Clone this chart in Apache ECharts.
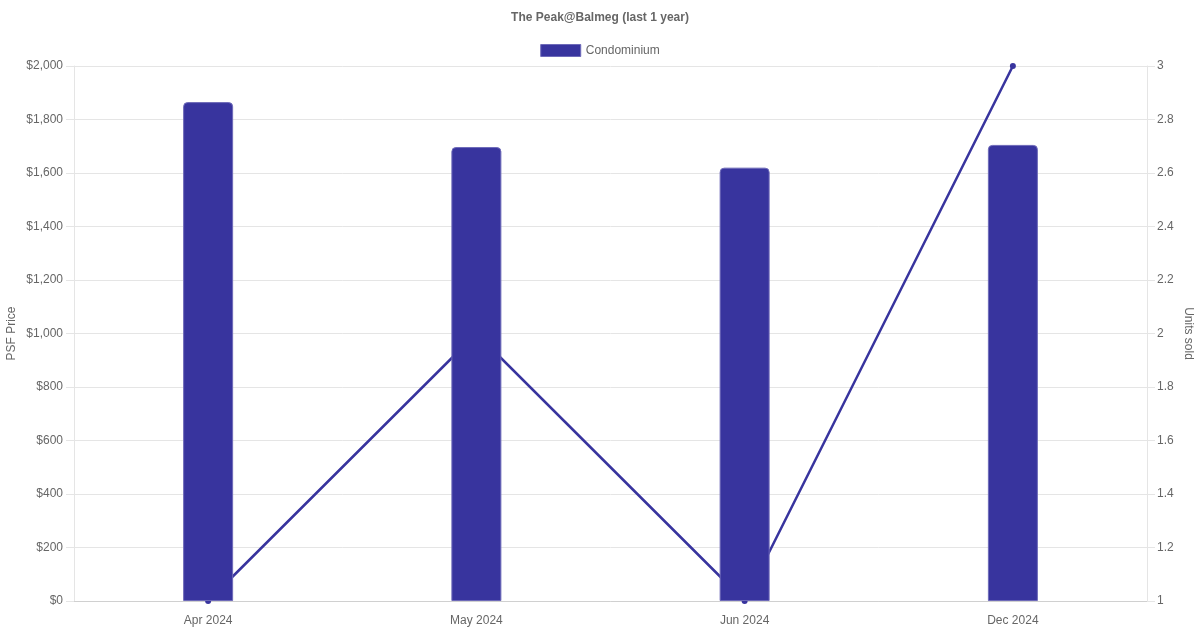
<!DOCTYPE html>
<html>
<head>
<meta charset="utf-8">
<script src="https://cdn.jsdelivr.net/npm/echarts@6/dist/echarts.min.js"></script>
<style>
  html, body { margin: 0; padding: 0; background: #fff; }
  #chart { width: 1200px; height: 630px; }
</style>
</head>
<body>
<div id="chart"></div>
<script>
// Values
const months = ["Apr 2024", "May 2024", "Jun 2024", "Dec 2024"];
const psfPrice = [1865, 1697, 1620, 1705];
const unitsSold = [1, 2, 1, 3];

const BLUE = "#38349e";
const EDGE = "#6e6ab9";
const TEXT = "#666";
const GRID = "#e5e5e5";
const FONT = "'Liberation Sans', Arial, Helvetica, sans-serif";

const chart = echarts.init(document.getElementById("chart"));

const option = {
  textStyle: { fontFamily: FONT },
  animation: false,
  title: {
    text: "The Peak@Balmeg (last 1 year)",
    left: "center",
    top: 7,
    textStyle: { fontSize: 12, fontWeight: "bold", color: TEXT, fontFamily: FONT },
  },
  legend: {
    data: ["Condominium"],
    top: 39,
    left: "center",
    itemWidth: 40,
    itemHeight: 12,
    itemGap: 10,
    icon: "rect",
    itemStyle: { color: BLUE, borderColor: EDGE, borderWidth: 1 },
    textStyle: { fontSize: 12, color: TEXT, fontFamily: FONT },
  },
  grid: { left: 74, right: 53, top: 66, bottom: 29, containLabel: false, outerBoundsMode: "none" },
  xAxis: {
    type: "category",
    data: months,
    axisLine: { show: true, lineStyle: { color: "#d0d0d0" } },
    axisTick: { show: false },
    splitLine: { show: false },
    axisLabel: { color: TEXT, fontSize: 12, margin: 14, fontFamily: FONT },
  },
  yAxis: [
    {
      type: "value",
      min: 0,
      max: 2000,
      interval: 200,
      name: "PSF Price",
      nameLocation: "middle",
      nameRotate: 90,
      nameGap: 56,
      nameMoveOverlap: false,
      nameTextStyle: { color: TEXT, fontSize: 12, fontFamily: FONT },
      axisLine: { show: true, lineStyle: { color: GRID } },
      axisTick: { show: true, length: 8, lineStyle: { color: GRID } },
      splitLine: { show: true, lineStyle: { color: GRID } },
      axisLabel: {
        color: TEXT,
        fontSize: 12,
        margin: 11,
        fontFamily: FONT,
        formatter: (v) => "$" + v.toLocaleString("en-US"),
      },
    },
    {
      type: "value",
      min: 1,
      max: 3,
      interval: 0.2,
      position: "right",
      name: "Units sold",
      nameLocation: "middle",
      nameRotate: -90,
      nameGap: 35,
      nameMoveOverlap: false,
      nameTextStyle: { color: TEXT, fontSize: 12, fontFamily: FONT },
      axisLine: { show: true, lineStyle: { color: GRID } },
      axisTick: { show: true, length: 8, lineStyle: { color: GRID } },
      splitLine: { show: false },
      axisLabel: {
        color: TEXT,
        fontSize: 12,
        margin: 10,
        fontFamily: FONT,
        formatter: (v) => String(Math.round(v * 10) / 10),
      },
    },
  ],
  series: [
    {
      name: "Units sold",
      type: "line",
      yAxisIndex: 1,
      data: unitsSold,
      z: 1,
      clip: false,
      symbol: "circle",
      symbolSize: 6,
      lineStyle: { color: BLUE, width: 2.5 },
      itemStyle: { color: BLUE },
    },
    {
      name: "Condominium",
      type: "bar",
      yAxisIndex: 0,
      data: psfPrice,
      z: 2,
      barWidth: 50,
      itemStyle: {
        color: BLUE,
        borderColor: EDGE,
        borderWidth: 1,
        borderRadius: [4, 4, 0, 0],
      },
    },
  ],
};

chart.setOption(option);
</script>
</body>
</html>
